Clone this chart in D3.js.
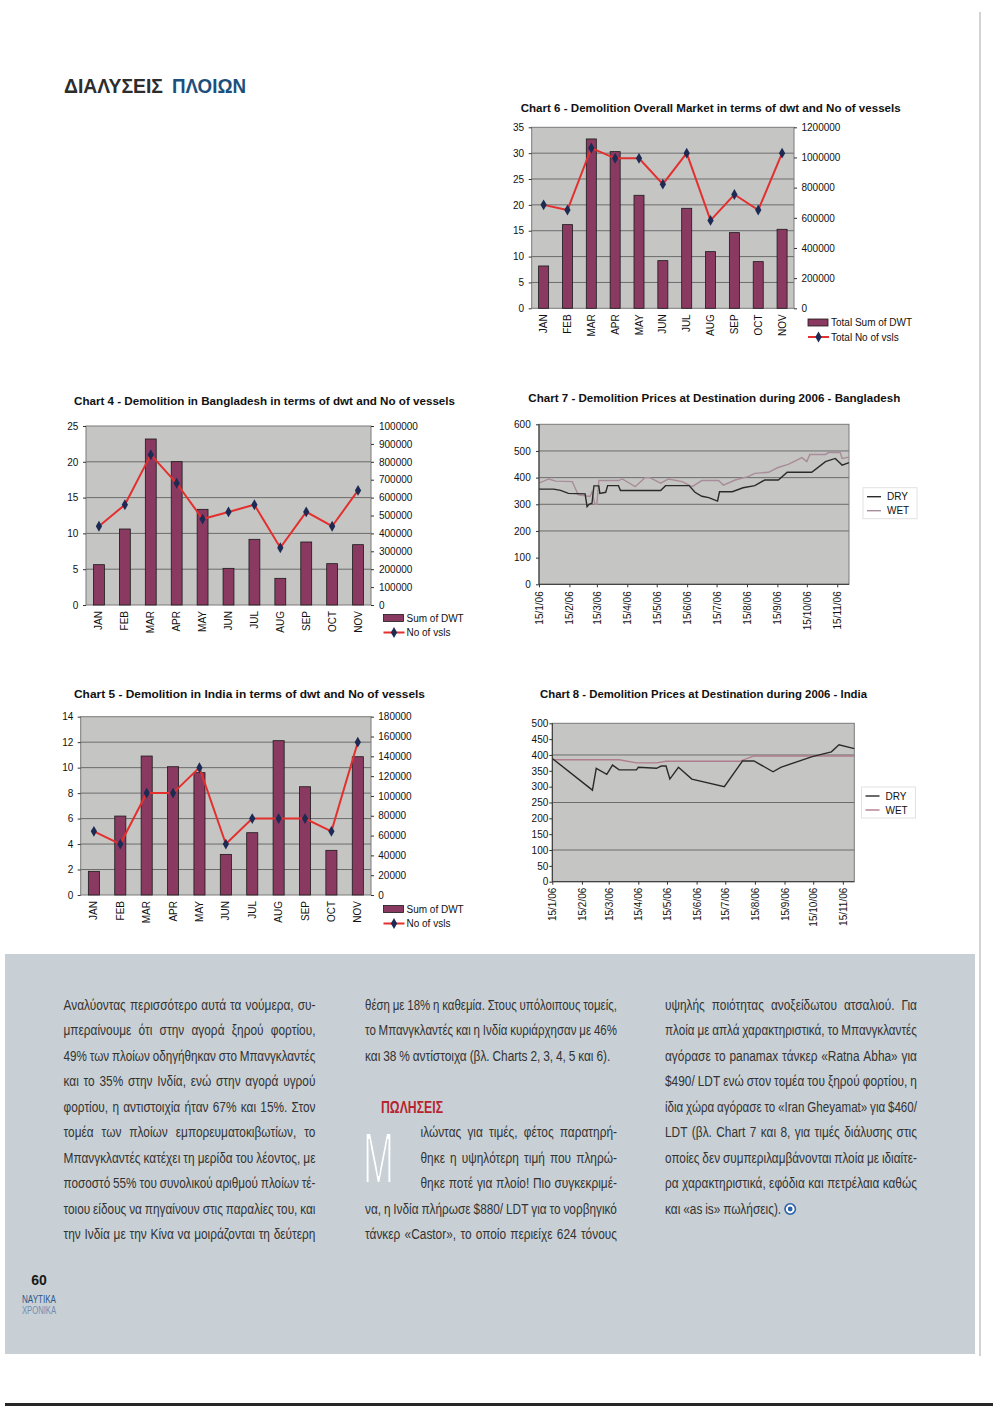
<!DOCTYPE html>
<html><head><meta charset="utf-8">
<script src="https://cdn.jsdelivr.net/npm/d3@7"></script>
<style>body{margin:0;background:#fff}svg{display:block}</style>
</head><body>
<svg id="page" width="1000" height="1414"></svg>
<script>
// ---------------- DATA ----------------
const months = ["JAN","FEB","MAR","APR","MAY","JUN","JUL","AUG","SEP","OCT","NOV"];

// Chart 6 - Overall market
const c6Dwt  = [280700, 554700, 1122700, 1038700, 749200, 316000, 663000, 375700, 501700, 309400, 523800];
const c6Vsls = [20, 19, 31, 29, 29, 24, 30, 17, 22, 19, 30];
const c6LeftTicks  = [0, 5, 10, 15, 20, 25, 30, 35];
const c6RightTicks = [0, 200000, 400000, 600000, 800000, 1000000, 1200000];

// Chart 4 - Bangladesh
const c4Dwt  = [225300, 424600, 927400, 800700, 534500, 204800, 366900, 149000, 352000, 230900, 337100];
const c4Vsls = [11, 14, 21, 17, 12, 13, 14, 8, 13, 11, 16];
const c4LeftTicks  = [0, 5, 10, 15, 20, 25];
const c4RightTicks = [0, 100000, 200000, 300000, 400000, 500000, 600000, 700000, 800000, 900000, 1000000];

// Chart 5 - India
const c5Dwt  = [23900, 79700, 140300, 129500, 123500, 41000, 62900, 155800, 109300, 45100, 139600];
const c5Vsls = [5, 4, 8, 8, 10, 4, 6, 6, 6, 5, 12];
const c5LeftTicks  = [0, 2, 4, 6, 8, 10, 12, 14];
const c5RightTicks = [0, 20000, 40000, 60000, 80000, 100000, 120000, 140000, 160000, 180000];

// Date axis ticks (charts 7 and 8)
const dateTicks = ["2006-01-15","2006-02-15","2006-03-15","2006-04-15","2006-05-15","2006-06-15",
                   "2006-07-15","2006-08-15","2006-09-15","2006-10-15","2006-11-15"];
const dateDomain = ["2006-01-15","2006-11-27"];

// Chart 7 - Bangladesh prices
const c7Dry = [["2006-01-15",357],["2006-01-30",357],["2006-02-06",352],["2006-02-14",341],["2006-03-03",339],
  ["2006-03-05",291],["2006-03-07",300],["2006-03-10",304],["2006-03-12",369],["2006-03-17",369],["2006-03-18",341],
  ["2006-03-24",345],["2006-03-26",370],["2006-04-06",370],["2006-04-08",352],["2006-05-19",352],["2006-05-24",370],
  ["2006-06-17",370],["2006-06-23",345],["2006-06-30",330],["2006-07-07",325],["2006-07-16",312],["2006-07-18",347],
  ["2006-07-31",347],["2006-08-11",362],["2006-08-23",370],["2006-09-02",391],["2006-09-16",391],["2006-09-25",420],
  ["2006-10-20",420],["2006-11-03",460],["2006-11-13",472],["2006-11-20",447],["2006-11-27",456]];
const c7Wet = [["2006-01-15",379],["2006-01-25",395],["2006-02-01",387],["2006-02-18",385],["2006-02-24",335],
  ["2006-03-08",329],["2006-03-10",347],["2006-03-13",300],["2006-03-15",300],["2006-03-17",389],["2006-04-06",389],
  ["2006-04-10",395],["2006-04-23",366],["2006-05-03",400],["2006-05-08",400],["2006-05-19",379],["2006-05-27",395],
  ["2006-06-10",385],["2006-06-20",366],["2006-06-30",389],["2006-07-17",389],["2006-07-22",372],["2006-08-03",391],
  ["2006-08-16",404],["2006-08-23",416],["2006-09-06",420],["2006-09-15",437],["2006-09-26",450],["2006-10-10",475],
  ["2006-10-15",460],["2006-10-18",487],["2006-11-03",487],["2006-11-06",494],["2006-11-18",494],["2006-11-20",472],
  ["2006-11-27",477]];
const c7Ticks = [0, 100, 200, 300, 400, 500, 600];
const c7Grid  = [200, 300, 400, 500];

// Chart 8 - India prices
const c8Dry = [["2006-01-15",389],["2006-02-26",289],["2006-03-02",358],["2006-03-13",339],["2006-03-19",368],
  ["2006-03-26",353],["2006-04-13",353],["2006-04-15",361],["2006-05-04",358],["2006-05-09",365],["2006-05-14",365],
  ["2006-05-18",324],["2006-05-27",361],["2006-06-10",324],["2006-07-14",300],["2006-08-02",381],["2006-08-14",381],
  ["2006-09-03",347],["2006-09-11",361],["2006-10-14",395],["2006-11-03",410],["2006-11-11",432],["2006-11-27",420]];
const c8Wet = [["2006-01-15",385],["2006-03-26",385],["2006-04-13",375],["2006-05-04",375],["2006-05-14",380],
  ["2006-07-30",380],["2006-08-14",397],["2006-11-27",397]];
const c8Ticks = [0, 50, 100, 150, 200, 250, 300, 350, 400, 450, 500];
const c8Grid  = [100, 250, 400];

// Article text
const col1Lines = [
  "Αναλύοντας περισσότερο αυτά τα νούμερα, συ-",
  "μπεραίνουμε ότι στην αγορά ξηρού φορτίου,",
  "49% των πλοίων οδηγήθηκαν στο Μπανγκλαντές",
  "και το 35% στην Ινδία, ενώ στην αγορά υγρού",
  "φορτίου, η αντιστοιχία ήταν 67% και 15%. Στον",
  "τομέα των πλοίων εμπορευματοκιβωτίων, το",
  "Μπανγκλαντές κατέχει τη μερίδα του λέοντος, με",
  "ποσοστό 55% του συνολικού αριθμού πλοίων τέ-",
  "τοιου είδους να πηγαίνουν στις παραλίες του, και",
  "την Ινδία με την Κίνα να μοιράζονται τη δεύτερη"];
const col2Lines = [
  "θέση με 18% η καθεμία. Στους υπόλοιπους τομείς,",
  "το Μπανγκλαντές και η Ινδία κυριάρχησαν με 46%",
  "και 38 % αντίστοιχα (βλ. Charts 2, 3, 4, 5 και 6)."];
const col2Heading = "ΠΩΛΗΣΕΙΣ";
const col2DropCap = "Μ";
const col2DropLines = [
  "ιλώντας για τιμές, φέτος παρατηρή-",
  "θηκε η υψηλότερη τιμή που πληρώ-",
  "θηκε ποτέ για πλοίο! Πιο συγκεκριμέ-"];
const col2After = [
  "να, η Ινδία πλήρωσε $880/ LDT για το νορβηγικό",
  "τάνκερ «Castor», το οποίο περιείχε 624 τόνους"];
const col3Lines = [
  "υψηλής ποιότητας ανοξείδωτου ατσαλιού. Για",
  "πλοία με απλά χαρακτηριστικά, το Μπανγκλαντές",
  "αγόρασε το panamax τάνκερ «Ratna Abha» για",
  "$490/ LDT ενώ στον τομέα του ξηρού φορτίου, η",
  "ίδια χώρα αγόρασε το «Iran Gheyamat» για $460/",
  "LDT (βλ. Chart 7 και 8, για τιμές διάλυσης στις",
  "οποίες δεν συμπεριλαμβάνονται πλοία με ιδιαίτε-",
  "ρα χαρακτηριστικά, εφόδια και πετρέλαια καθώς",
  "και «as is» πωλήσεις)."];

// ---------------- DRAWING ----------------
const svg = d3.select("#page");
const CF = "'Liberation Sans', Arial, sans-serif";
const parseD = d3.timeParse("%Y-%m-%d");
const PLOT_BG = "#c5c6c4", GRID = "#6c6c6c", FRAME = "#7a7a7a";
const BAR = "#8a3a60", LINE = "#e3302f", MARK = "#1c2a54";
const BOX = "#c8d0d5";

// page background parts
svg.append("rect").attr("x",0).attr("y",0).attr("width",1000).attr("height",1414).attr("fill","#fff");
svg.append("rect").attr("x",5).attr("y",954).attr("width",970).attr("height",400).attr("fill",BOX);
svg.append("line").attr("x1",980).attr("x2",980).attr("y1",12).attr("y2",1356).attr("stroke","#c4c4c4").attr("stroke-width",1.5);
svg.append("rect").attr("x",5).attr("y",1403).attr("width",988).attr("height",3).attr("fill","#262626");

// Page header
svg.append("text").attr("x",64).attr("y",92.5).attr("textLength",99).attr("lengthAdjust","spacingAndGlyphs")
  .style("font-family","'Liberation Sans Narrow','Liberation Sans',sans-serif").style("font-weight","bold")
  .style("font-size","21px").attr("fill","#2d2d2d").text("ΔΙΑΛΥΣΕΙΣ");
svg.append("text").attr("x",172).attr("y",92.5).attr("textLength",74).attr("lengthAdjust","spacingAndGlyphs")
  .style("font-family","'Liberation Sans Narrow','Liberation Sans',sans-serif").style("font-weight","bold")
  .style("font-size","21px").attr("fill","#1d4f7c").text("ΠΛΟΙΩΝ");

function title(t, x, y, w) {
  svg.append("text").attr("x",x).attr("y",y).attr("textLength",w).attr("lengthAdjust","spacingAndGlyphs")
    .style("font-family",CF).style("font-weight","bold").style("font-size","10.5px").attr("fill","#111").text(t);
}

function styleAxisText(sel) {
  sel.selectAll("text").style("font-family",CF).style("font-size","10px").attr("fill","#111");
  sel.select(".domain").remove();
  sel.selectAll(".tick line").attr("stroke","#333");
}

function combo(cfg) {
  const g = svg.append("g");
  const x = d3.scaleBand().domain(months).range([cfg.x0,cfg.x1]).paddingInner(0.58).paddingOuter(0.29);
  const yL = d3.scaleLinear().domain([0, d3.max(cfg.leftTicks)]).range([cfg.y1,cfg.y0]);
  const yR = d3.scaleLinear().domain([0, d3.max(cfg.rightTicks)]).range([cfg.y1,cfg.y0]);
  g.append("rect").attr("x",cfg.x0).attr("y",cfg.y0).attr("width",cfg.x1-cfg.x0).attr("height",cfg.y1-cfg.y0)
    .attr("fill",PLOT_BG);
  g.selectAll(".grid").data(cfg.leftTicks.slice(1,-1)).join("line")
    .attr("x1",cfg.x0).attr("x2",cfg.x1).attr("y1",d=>yL(d)).attr("y2",d=>yL(d)).attr("stroke",GRID).attr("stroke-width",1);
  g.append("rect").attr("x",cfg.x0).attr("y",cfg.y0).attr("width",cfg.x1-cfg.x0).attr("height",cfg.y1-cfg.y0)
    .attr("fill","none").attr("stroke",FRAME).attr("stroke-width",1);
  g.selectAll(".bar").data(cfg.dwt).join("rect")
    .attr("x",(d,i)=>x(months[i])).attr("width",x.bandwidth())
    .attr("y",d=>yR(d)).attr("height",d=>cfg.y1-yR(d))
    .attr("fill",BAR).attr("stroke","#1a1a1a").attr("stroke-width",0.8);
  const line = d3.line().x((d,i)=>x(months[i])+x.bandwidth()/2).y(d=>yL(d));
  g.append("path").datum(cfg.vsls).attr("d",line).attr("fill","none").attr("stroke",LINE).attr("stroke-width",2);
  g.selectAll(".mk").data(cfg.vsls).join("path")
    .attr("d",d3.symbol(d3.symbolDiamond,34))
    .attr("transform",(d,i)=>`translate(${x(months[i])+x.bandwidth()/2},${yL(d)})`).attr("fill",MARK);
  // axes
  const aL = g.append("g").attr("transform",`translate(${cfg.x0},0)`)
    .call(d3.axisLeft(yL).tickValues(cfg.leftTicks).tickSize(3).tickPadding(cfg.x0-cfg.leftLabelX-3).tickFormat(d3.format("d")));
  styleAxisText(aL);
  const aR = g.append("g").attr("transform",`translate(${cfg.x1},0)`)
    .call(d3.axisRight(yR).tickValues(cfg.rightTicks).tickSize(3).tickPadding(cfg.rightLabelX-cfg.x1-3).tickFormat(d3.format("d")));
  styleAxisText(aR);
  const aB = g.append("g").attr("transform",`translate(0,${cfg.y1})`).call(d3.axisBottom(x).tickSize(0));
  styleAxisText(aB);
  aB.selectAll("text").attr("transform","rotate(-90)").attr("x",-6).attr("y",0).attr("dy","0.35em").attr("text-anchor","end");
  // legend
  const lg = g.append("g").attr("transform",`translate(${cfg.legX},${cfg.legY})`);
  lg.append("rect").attr("x",0).attr("y",-3.5).attr("width",20).attr("height",7).attr("fill",BAR).attr("stroke","#1a1a1a").attr("stroke-width",0.8);
  lg.append("text").attr("x",23).attr("y",3.5).style("font-family",CF).style("font-size","10px").attr("fill","#111").text(cfg.leg[0]);
  lg.append("line").attr("x1",0).attr("x2",21).attr("y1",14.5).attr("y2",14.5).attr("stroke",LINE).attr("stroke-width",2);
  lg.append("path").attr("d",d3.symbol(d3.symbolDiamond,34)).attr("transform","translate(10.5,14.5)").attr("fill",MARK);
  lg.append("text").attr("x",23).attr("y",18).style("font-family",CF).style("font-size","10px").attr("fill","#111").text(cfg.leg[1]);
}

function priceChart(cfg) {
  const g = svg.append("g");
  const x = d3.scaleTime().domain(dateDomain.map(parseD)).range([cfg.x0,cfg.x1]);
  const y = d3.scaleLinear().domain([0, d3.max(cfg.ticks)]).range([cfg.y1,cfg.y0]);
  g.append("rect").attr("x",cfg.x0).attr("y",cfg.y0).attr("width",cfg.x1-cfg.x0).attr("height",cfg.y1-cfg.y0).attr("fill",PLOT_BG);
  g.selectAll(".grid").data(cfg.grid).join("line")
    .attr("x1",cfg.x0).attr("x2",cfg.x1).attr("y1",d=>y(d)).attr("y2",d=>y(d)).attr("stroke",GRID).attr("stroke-width",1);
  g.append("rect").attr("x",cfg.x0).attr("y",cfg.y0).attr("width",cfg.x1-cfg.x0).attr("height",cfg.y1-cfg.y0)
    .attr("fill","none").attr("stroke",FRAME).attr("stroke-width",1);
  const line = d3.line().x(d=>x(parseD(d[0]))).y(d=>y(d[1]));
  g.append("path").datum(cfg.wet).attr("d",line).attr("fill","none").attr("stroke",cfg.wetColor).attr("stroke-width",1.4);
  g.append("path").datum(cfg.dry).attr("d",line).attr("fill","none").attr("stroke","#2a2a2a").attr("stroke-width",1.4);
  const aL = g.append("g").attr("transform",`translate(${cfg.x0},0)`)
    .call(d3.axisLeft(y).tickValues(cfg.ticks).tickSize(3).tickPadding(cfg.x0-cfg.leftLabelX-3));
  styleAxisText(aL);
  g.append("line").attr("x1",cfg.x0).attr("x2",cfg.x0).attr("y1",cfg.y0).attr("y2",cfg.y1).attr("stroke","#333");
  g.append("line").attr("x1",cfg.x0).attr("x2",cfg.x1).attr("y1",cfg.y1).attr("y2",cfg.y1).attr("stroke","#333");
  const aB = g.append("g").attr("transform",`translate(0,${cfg.y1})`)
    .call(d3.axisBottom(x).tickValues(dateTicks.map(parseD)).tickSize(3)
      .tickFormat(d=>`${d.getDate()}/${d.getMonth()+1}/06`));
  styleAxisText(aB);
  aB.selectAll("text").attr("transform","rotate(-90)").attr("x",-cfg.labelOff).attr("y",0).attr("dy","0.35em").attr("text-anchor","end");
  // legend
  const lg = g.append("g").attr("transform",`translate(${cfg.legX},${cfg.legY})`);
  lg.append("rect").attr("x",-4).attr("y",-9).attr("width",54).attr("height",31).attr("fill","none").attr("stroke","#e2e2e2");
  lg.append("line").attr("x1",0).attr("x2",14).attr("y1",0).attr("y2",0).attr("stroke","#2a2a2a").attr("stroke-width",1.4);
  lg.append("text").attr("x",20).attr("y",3.5).style("font-family",CF).style("font-size","10px").attr("fill","#111").text("DRY");
  lg.append("line").attr("x1",0).attr("x2",14).attr("y1",14).attr("y2",14).attr("stroke",cfg.wetColor).attr("stroke-width",1.4);
  lg.append("text").attr("x",20).attr("y",17.5).style("font-family",CF).style("font-size","10px").attr("fill","#111").text("WET");
}

// Chart 6
title("Chart 6 - Demolition Overall Market in terms of dwt and No of vessels", 520.7, 111.5, 380);
combo({x0:531.7,x1:794,y0:127.3,y1:308.3,dwt:c6Dwt,vsls:c6Vsls,leftTicks:c6LeftTicks,rightTicks:c6RightTicks,
  leftLabelX:524,rightLabelX:801.5,legX:808,legY:322.5,leg:["Total Sum of DWT","Total No of vsls"]});
// Chart 4
title("Chart 4 - Demolition in Bangladesh in terms of dwt and No of vessels", 74, 405, 381);
combo({x0:86,x1:371,y0:426,y1:605,dwt:c4Dwt,vsls:c4Vsls,leftTicks:c4LeftTicks,rightTicks:c4RightTicks,
  leftLabelX:78.3,rightLabelX:379,legX:383.5,legY:618,leg:["Sum of DWT","No of vsls"]});
// Chart 5
title("Chart 5 - Demolition in India in terms of dwt and No of vessels", 74, 698.3, 351);
combo({x0:80.7,x1:371,y0:716.7,y1:895,dwt:c5Dwt,vsls:c5Vsls,leftTicks:c5LeftTicks,rightTicks:c5RightTicks,
  leftLabelX:73.3,rightLabelX:378.3,legX:383.5,legY:909,leg:["Sum of DWT","No of vsls"]});
// Chart 7
title("Chart 7 - Demolition Prices at Destination during 2006 - Bangladesh", 528.3, 401.7, 372);
priceChart({x0:539,x1:849,y0:424.3,y1:584.3,ticks:c7Ticks,grid:c7Grid,dry:c7Dry,wet:c7Wet,wetColor:"#a88c99",
  leftLabelX:530.7,labelOff:7,legX:867,legY:496.7});
// Chart 8
title("Chart 8 - Demolition Prices at Destination during 2006 - India", 540, 698.3, 327);
priceChart({x0:552.3,x1:854.3,y0:723.3,y1:881.7,ticks:c8Ticks,grid:c8Grid,dry:c8Dry,wet:c8Wet,wetColor:"#b07c8e",
  leftLabelX:548.3,labelOff:6,legX:865.5,legY:796});

// ---------------- ARTICLE TEXT ----------------
const TF_N = "'Liberation Sans Narrow'", TF_R = "'Liberation Sans'";
const probe = svg.append("text").style("font-size","100px").text("abcdefgh αβγδεζηθ");
probe.style("font-family",TF_N+",monospace"); const wN = probe.node().getComputedTextLength();
probe.style("font-family",TF_R+",monospace"); const wR = probe.node().getComputedTextLength();
probe.remove();
const hasNarrow = wN < wR*0.93;
const TFONT = hasNarrow ? TF_N+",'Liberation Sans',sans-serif" : "'Liberation Sans',sans-serif";
const HS = hasNarrow ? 1 : 0.82;
const FS = 14.5, TCOL = "#333";

function setLine(str, x, y, width, justify) {
  const g = svg.append("g");
  const t = g.append("text").style("font-family",TFONT).style("font-size",FS+"px").attr("fill",TCOL);
  const words = str.split(" ");
  const sp = words.map(w => t.append("tspan").text(w));
  const ws = sp.map(s => s.node().getComputedTextLength());
  const sum = d3.sum(ws), spaceW = FS*0.24;
  let s = HS;
  const natural = (sum + spaceW*(words.length-1))*s;
  if (natural > width) s = s*width/natural;
  const W = width/s;
  let gap = (justify && words.length>1) ? (W-sum)/(words.length-1) : spaceW;
  if (gap < spaceW*0.5) gap = spaceW*0.5;
  let cx = 0;
  sp.forEach((el,i) => { el.attr("x",cx); cx += ws[i]+gap; });
  g.attr("transform",`translate(${x},${y}) scale(${s},1)`);
  return cx - gap;
}
const Y0 = 1009.5, LH = 25.5, CW = 252;
col1Lines.forEach((l,i)=> setLine(l, 63.5, Y0+i*LH, CW, true));
col2Lines.forEach((l,i)=> setLine(l, 365, Y0+i*LH, CW, i<col2Lines.length-1));
svg.append("text").attr("x",381).attr("y",Y0+4*LH+1).attr("textLength",62).attr("lengthAdjust","spacingAndGlyphs")
  .style("font-family",TFONT).style("font-weight","bold").style("font-size","17px").attr("fill","#b8232f").text(col2Heading);
// drop cap: thin white letter, horizontally condensed through a transform
const dc = svg.append("text").attr("x",0).attr("y",0)
  .style("font-family","'Liberation Sans',sans-serif").style("font-size","72px")
  .attr("fill","#ffffff").attr("stroke",BOX).attr("stroke-width",2.2).text(col2DropCap);
const dcW = dc.node().getComputedTextLength();
dc.attr("transform",`translate(363,${Y0+7*LH-5}) scale(${31/dcW},1)`);
col2DropLines.forEach((l,i)=> setLine(l, 420.5, Y0+(5+i)*LH, 617-420.5, true));
col2After.forEach((l,i)=> setLine(l, 365, Y0+(8+i)*LH, CW, true));
let endX = 0;
col3Lines.forEach((l,i)=> { const last = i===col3Lines.length-1; const w = setLine(l, 665, Y0+i*LH, CW, !last); if(last) endX = w; });
// end-of-article mark
const markX = 665 + endX*HS + 9, markY = Y0+8*LH-4.5;
svg.append("circle").attr("cx",markX).attr("cy",markY).attr("r",5.2).attr("fill","#fff").attr("stroke","#2a62a8").attr("stroke-width",1.6);
svg.append("circle").attr("cx",markX).attr("cy",markY).attr("r",2.4).attr("fill","#2a62a8");

// Folio
svg.append("text").attr("x",39).attr("y",1285).attr("text-anchor","middle").style("font-family","'Liberation Sans',sans-serif")
  .style("font-weight","bold").style("font-size","14px").attr("fill","#1a1a1a").text("60");
svg.append("text").attr("x",39).attr("y",1302.5).attr("text-anchor","middle").attr("textLength",34).attr("lengthAdjust","spacingAndGlyphs")
  .style("font-family",TFONT).style("font-size","11px").attr("fill","#2a5a8c").text("ΝΑΥΤΙΚΑ");
svg.append("text").attr("x",39).attr("y",1314).attr("text-anchor","middle").attr("textLength",34).attr("lengthAdjust","spacingAndGlyphs")
  .style("font-family",TFONT).style("font-size","11px").attr("fill","#6f8db3").text("ΧΡΟΝΙΚΑ");
</script>
</body></html>
